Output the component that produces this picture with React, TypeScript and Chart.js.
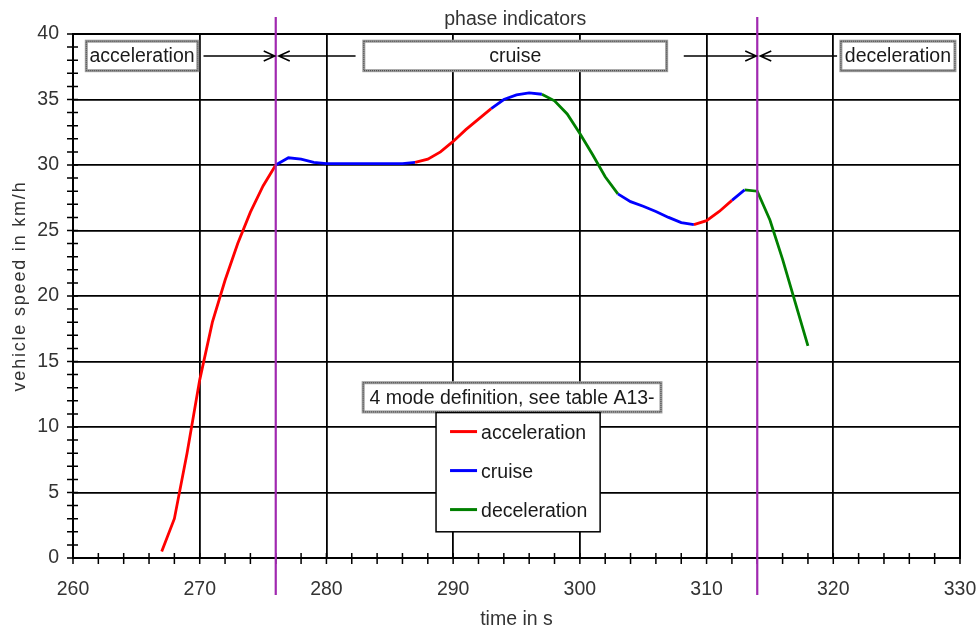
import React, { useEffect, useRef } from "react";
import { Chart, registerables } from "chart.js";

Chart.register(...registerables);

// ---- data ----
const timeS = [
  267, 268, 269, 270, 271, 272, 273, 274, 275, 276,
  277, 278, 279, 280, 281, 282, 283, 284, 285, 286,
  287, 288, 289, 290, 291, 292, 293, 294, 295, 296,
  297, 298, 299, 300, 301, 302, 303, 304, 305, 306,
  307, 308, 309, 310, 311, 312, 313, 314, 315, 316,
  317, 318,
];
const speedKmh = [
  0.5, 3.0, 8.0, 13.6, 18.0, 21.2, 24.0, 26.4, 28.4, 30.0,
  30.55, 30.45, 30.2, 30.1, 30.1, 30.1, 30.1, 30.1, 30.1, 30.1,
  30.2, 30.45, 31.0, 31.8, 32.7, 33.5, 34.3, 35.0, 35.35, 35.5,
  35.4, 34.9, 33.9, 32.4, 30.8, 29.1, 27.8, 27.2, 26.85, 26.45,
  26.0, 25.6, 25.45, 25.75, 26.45, 27.3, 28.1, 28.0, 25.8, 22.8,
  19.5, 16.2,
];
// mode of each stretch, starting at the given time
const modeStarts = [267, 276, 287, 293, 297, 303, 309, 312, 313];
const modeOfStretch = [
  "acceleration", "cruise", "acceleration", "cruise", "deceleration",
  "cruise", "acceleration", "cruise", "deceleration",
];
const modeNames = ["acceleration", "cruise", "deceleration"];
const modeColors = ["#ff0000", "#0000ff", "#008000"];
const phaseBoundaries = [276, 314];
const phaseLabels = ["acceleration", "cruise", "deceleration"];
const phaseTitle = "phase indicators";
const noteText = "4 mode definition, see table A13-";
const xTitle = "time in s";
const yTitle = "vehicle speed in km/h";
const xRange = [260, 330];
const yRange = [0, 40];

const FONT = '"Liberation Sans", Arial, sans-serif';

function modeAt(t: number): string {
  let m = modeOfStretch[0];
  for (let i = 0; i < modeStarts.length; i++) {
    if (modeStarts[i] <= t) m = modeOfStretch[i];
  }
  return m;
}

function buildSeries(mode: string) {
  return timeS.map((t, i) => {
    const prev = i > 0 && modeAt(timeS[i - 1]) === mode;
    const next = i < timeS.length - 1 && modeAt(t) === mode;
    return { x: t, y: prev || next ? speedKmh[i] : null };
  });
}

function dottedBox(ctx: CanvasRenderingContext2D, x1: number, y1: number, x2: number, y2: number) {
  ctx.save();
  ctx.fillStyle = "#ffffff";
  ctx.fillRect(x1, y1, x2 - x1, y2 - y1);
  ctx.strokeStyle = "#9a9a9a";
  ctx.lineWidth = 3;
  ctx.strokeRect(x1, y1, x2 - x1, y2 - y1);
  ctx.strokeStyle = "#404040";
  ctx.lineWidth = 1;
  ctx.setLineDash([1, 1]);
  ctx.strokeRect(x1, y1, x2 - x1, y2 - y1);
  ctx.restore();
}

function arrow(ctx: CanvasRenderingContext2D, x1: number, x2: number, y: number) {
  const dir = x2 > x1 ? 1 : -1;
  ctx.save();
  ctx.strokeStyle = "#000";
  ctx.lineWidth = 1.5;
  ctx.beginPath();
  ctx.moveTo(x1, y);
  ctx.lineTo(x2, y);
  ctx.moveTo(x2 - dir * 11, y - 5);
  ctx.lineTo(x2, y);
  ctx.lineTo(x2 - dir * 11, y + 5);
  ctx.stroke();
  ctx.restore();
}

const overlay = {
  id: "overlay",
  beforeDatasetsDraw(chart: any) {
    const { ctx, chartArea: a, scales } = chart;
    const xs = scales.x;
    const ys = scales.y;
    ctx.save();
    ctx.strokeStyle = "#000";
    ctx.lineWidth = 1.5;
    ctx.beginPath();
    for (let t = xRange[0]; t <= xRange[1]; t += 2) {
      const px = xs.getPixelForValue(t);
      ctx.moveTo(px, a.bottom - 5);
      ctx.lineTo(px, a.bottom + 6);
    }
    for (let v = yRange[0]; v <= yRange[1]; v += 1) {
      const py = ys.getPixelForValue(v);
      ctx.moveTo(a.left - 6, py);
      ctx.lineTo(a.left + 5, py);
    }
    ctx.stroke();
    ctx.lineWidth = 2;
    ctx.strokeRect(a.left, a.top, a.right - a.left, a.bottom - a.top);
    ctx.restore();
  },
  afterDatasetsDraw(chart: any) {
    const { ctx, chartArea: a, scales } = chart;
    const xs = scales.x;
    const ys = scales.y;
    const X = (t: number) => xs.getPixelForValue(t);
    const Y = (v: number) => ys.getPixelForValue(v);

    // phase boundary lines
    ctx.save();
    ctx.strokeStyle = "#a028b0";
    ctx.lineWidth = 2.2;
    ctx.beginPath();
    phaseBoundaries.forEach((b) => {
      const px = X(b);
      ctx.moveTo(px, a.top - 17);
      ctx.lineTo(px, a.bottom + 37);
    });
    ctx.stroke();
    ctx.restore();

    // phase indicator boxes
    const bTop = Y(39.45);
    const bBot = Y(37.2);
    const bMid = (bTop + bBot) / 2;
    const boxes = [
      [261.05, 269.85],
      [282.95, 306.85],
      [320.6, 329.6],
    ];
    ctx.save();
    ctx.font = `19.5px ${FONT}`;
    ctx.textBaseline = "middle";
    ctx.textAlign = "center";
    boxes.forEach((bx, i) => {
      const x1 = X(bx[0]);
      const x2 = X(bx[1]);
      dottedBox(ctx, x1, bTop, x2, bBot);
      ctx.fillStyle = "#1a1a1a";
      ctx.fillText(phaseLabels[i], (x1 + x2) / 2, bMid + 1);
    });
    // title
    ctx.fillStyle = "#333";
    ctx.fillText(phaseTitle, (X(boxes[1][0]) + X(boxes[1][1])) / 2, a.top - 14);
    ctx.restore();

    // arrows
    const b1 = X(phaseBoundaries[0]);
    const b2 = X(phaseBoundaries[1]);
    arrow(ctx, X(270.3), b1 - 1, bMid);
    arrow(ctx, X(282.3), b1 + 3, bMid);
    arrow(ctx, X(308.2), b2 - 1, bMid);
    arrow(ctx, X(320.3), b2 + 3, bMid);

    // note box
    const nx1 = X(282.9);
    const nx2 = X(306.4);
    const ny1 = Y(13.38);
    const ny2 = Y(11.15);
    dottedBox(ctx, nx1, ny1, nx2, ny2);
    ctx.save();
    ctx.font = `19.5px ${FONT}`;
    ctx.textBaseline = "middle";
    ctx.textAlign = "center";
    ctx.fillStyle = "#1a1a1a";
    ctx.fillText(noteText, (nx1 + nx2) / 2, (ny1 + ny2) / 2 + 1);
    ctx.restore();

    // legend
    const lx1 = X(288.65);
    const lx2 = X(301.6);
    const ly1 = Y(11.1);
    const ly2 = Y(2.0);
    ctx.save();
    ctx.fillStyle = "#fff";
    ctx.fillRect(lx1, ly1, lx2 - lx1, ly2 - ly1);
    ctx.strokeStyle = "#000";
    ctx.lineWidth = 1.5;
    ctx.strokeRect(lx1, ly1, lx2 - lx1, ly2 - ly1);
    ctx.font = `19.5px ${FONT}`;
    ctx.textBaseline = "middle";
    ctx.textAlign = "left";
    modeNames.forEach((m, i) => {
      const ry = ly1 + 19 + i * 39;
      ctx.strokeStyle = modeColors[i];
      ctx.lineWidth = 3;
      ctx.beginPath();
      ctx.moveTo(lx1 + 14, ry);
      ctx.lineTo(lx1 + 41, ry);
      ctx.stroke();
      ctx.fillStyle = "#1a1a1a";
      ctx.fillText(m, lx1 + 45, ry + 2);
    });
    ctx.restore();

    // axis titles
    ctx.save();
    ctx.fillStyle = "#333";
    ctx.font = `19.5px ${FONT}`;
    ctx.textAlign = "center";
    ctx.textBaseline = "middle";
    ctx.fillText(xTitle, (a.left + a.right) / 2, a.bottom + 62);
    ctx.translate(20, (a.top + a.bottom) / 2 - 10);
    ctx.rotate(-Math.PI / 2);
    ctx.font = `18px ${FONT}`;
    (ctx as any).letterSpacing = "1.8px";
    ctx.fillText(yTitle, 0, 0);
    ctx.restore();
  },
};

export default function App() {
  const ref = useRef<HTMLCanvasElement | null>(null);
  useEffect(() => {
    document.body.style.margin = "0";
    if (!ref.current) return;
    const chart = new Chart(ref.current, {
      type: "line",
      data: {
        datasets: modeNames.map((m, i) => ({
          label: m,
          data: buildSeries(m),
          borderColor: modeColors[i],
          backgroundColor: modeColors[i],
          borderWidth: 2.8,
          pointRadius: 0,
          tension: 0,
          spanGaps: false,
        })),
      },
      options: {
        animation: false,
        responsive: false,
        devicePixelRatio: 1,
        layout: { padding: { top: 34, right: 19, left: 0, bottom: 0 } },
        plugins: { legend: { display: false }, tooltip: { enabled: false }, title: { display: false } },
        scales: {
          x: {
            type: "linear",
            min: xRange[0],
            max: xRange[1],
            ticks: { stepSize: 10, color: "#333", font: { family: FONT, size: 19.5 }, padding: 20, maxRotation: 0 },
            grid: { color: "#000", lineWidth: 1.8, drawTicks: false },
            border: { display: true, color: "#000", width: 2 },
            afterFit: (s: any) => {
              s.height = 72;
              s.paddingLeft = 0;
              s.paddingRight = 0;
            },
          },
          y: {
            type: "linear",
            min: yRange[0],
            max: yRange[1],
            ticks: { stepSize: 5, color: "#333", font: { family: FONT, size: 19.5 }, padding: 14 },
            grid: { color: "#000", lineWidth: 1.8, drawTicks: false },
            border: { display: true, color: "#000", width: 2 },
            afterFit: (s: any) => {
              s.width = 73;
              s.paddingTop = 0;
              s.paddingBottom = 0;
            },
          },
        },
      },
      plugins: [overlay],
    } as any);
    return () => chart.destroy();
  }, []);
  return (
    <div style={{ width: 979, height: 630 }}>
      <canvas ref={ref} width={979} height={630} style={{ display: "block" }} />
    </div>
  );
}
